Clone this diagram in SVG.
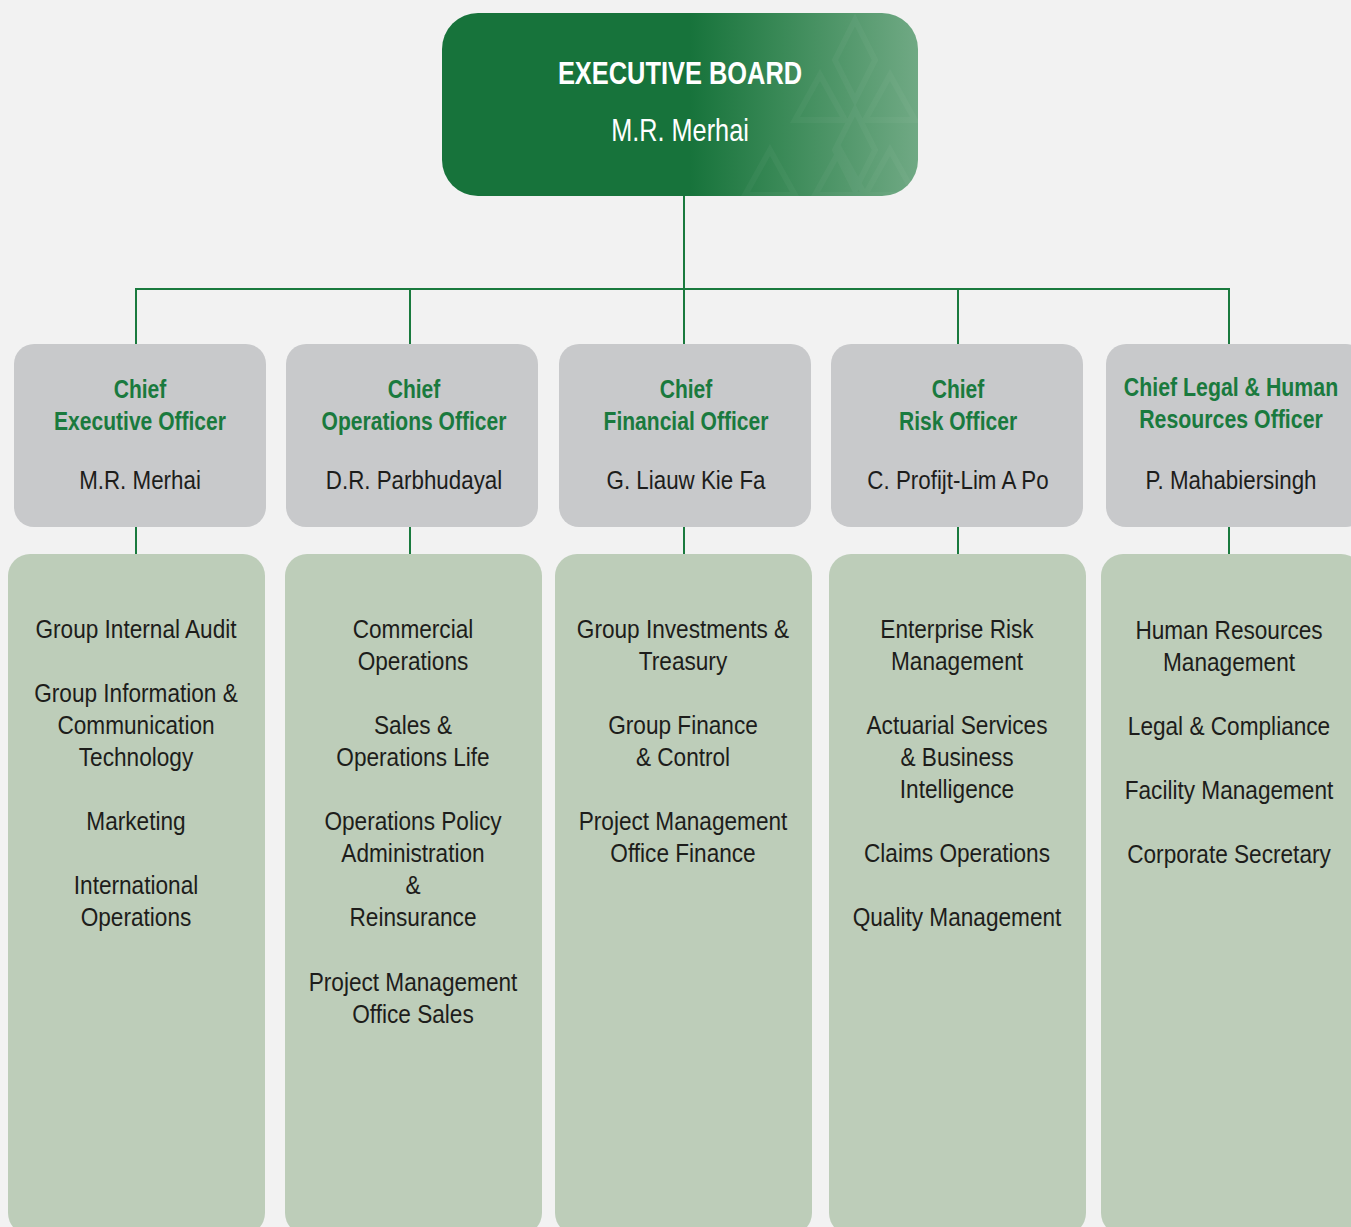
<svg xmlns="http://www.w3.org/2000/svg" width="1351" height="1227" viewBox="0 0 1351 1227">
<defs>
<linearGradient id="gb" x1="0" y1="0" x2="1" y2="0">
<stop offset="0" stop-color="#17733b"/>
<stop offset="0.52" stop-color="#17733b"/>
<stop offset="0.72" stop-color="#3b8a58"/>
<stop offset="1" stop-color="#70a984"/>
</linearGradient>
<clipPath id="cb"><rect x="442" y="13" width="476" height="183" rx="36"/></clipPath>
</defs>
<style>
.bg{fill:#f2f2f2}
.exec{fill:url(#gb)}
.gray{fill:#c8c9cb}
.unit{fill:#bdcdb9}
.con{stroke:#1a7a3e;stroke-width:2;fill:none}
text{font-family:"Liberation Sans",Arial,sans-serif;text-anchor:middle}
.t{font-size:26px;fill:#1d1d1b}
.h{font-size:26px;font-weight:bold;fill:#1a7a3e}
.nm{font-size:26px;fill:#1d1d1b}
.eb{font-size:31px;font-weight:bold;fill:#ffffff}
.en{font-size:32px;fill:#ffffff}
.pat{fill:none;stroke:#ffffff;stroke-opacity:0.035;stroke-width:6}
</style>
<rect class="bg" x="0" y="0" width="1351" height="1227"/>
<g id="connectors">
<path class="con" d="M684 196 V344"/>
<path class="con" d="M136 344 V289 H1229 V344"/>
<path class="con" d="M410 289 V344"/>
<path class="con" d="M958 289 V344"/>
<path class="con" d="M136 527 V554"/>
<path class="con" d="M410 527 V554"/>
<path class="con" d="M684 527 V554"/>
<path class="con" d="M958 527 V554"/>
<path class="con" d="M1229 527 V554"/>
</g>
<g id="executive-board">
<rect class="exec" x="442" y="13" width="476" height="183" rx="36"/>
<g clip-path="url(#cb)">
<path class="pat" d="M855 20 L875 60 L855 100 L835 60 Z M890 75 L915 120 L865 120 Z M820 75 L845 120 L795 120 Z M770 150 L795 195 L745 195 Z M840 150 L865 195 L815 195 Z M855 110 L875 150 L855 190 L835 150 Z M890 150 L915 195 L865 195 Z"/>
</g>
<g transform="translate(680 0) scale(0.82 1)"><text class="eb" x="0" y="84">EXECUTIVE BOARD</text></g>
<g transform="translate(680 0) scale(0.79 1)"><text class="en" x="0" y="141">M.R. Merhai</text></g>
</g>
<g id="ceo">
<rect class="gray" x="14" y="344" width="252" height="183" rx="20"/>
<g transform="translate(140 0) scale(0.81 1)">
<text class="h" x="0" y="398">Chief</text>
<text class="h" x="0" y="430">Executive Officer</text>
</g>
<g transform="translate(140 0) scale(0.86 1)"><text class="nm" x="0" y="489">M.R. Merhai</text></g>
</g>
<g id="coo">
<rect class="gray" x="286" y="344" width="252" height="183" rx="20"/>
<g transform="translate(414 0) scale(0.81 1)">
<text class="h" x="0" y="398">Chief</text>
<text class="h" x="0" y="430">Operations Officer</text>
</g>
<g transform="translate(414 0) scale(0.86 1)"><text class="nm" x="0" y="489">D.R. Parbhudayal</text></g>
</g>
<g id="cfo">
<rect class="gray" x="559" y="344" width="252" height="183" rx="20"/>
<g transform="translate(686 0) scale(0.81 1)">
<text class="h" x="0" y="398">Chief</text>
<text class="h" x="0" y="430">Financial Officer</text>
</g>
<g transform="translate(686 0) scale(0.86 1)"><text class="nm" x="0" y="489">G. Liauw Kie Fa</text></g>
</g>
<g id="cro">
<rect class="gray" x="831" y="344" width="252" height="183" rx="20"/>
<g transform="translate(958 0) scale(0.81 1)">
<text class="h" x="0" y="398">Chief</text>
<text class="h" x="0" y="430">Risk Officer</text>
</g>
<g transform="translate(958 0) scale(0.86 1)"><text class="nm" x="0" y="489">C. Profijt-Lim A Po</text></g>
</g>
<g id="clhro">
<rect class="gray" x="1106" y="344" width="260" height="183" rx="20"/>
<g transform="translate(1231 0) scale(0.82 1)">
<text class="h" x="0" y="396">Chief Legal &amp; Human</text>
<text class="h" x="0" y="428">Resources Officer</text>
</g>
<g transform="translate(1231 0) scale(0.86 1)"><text class="nm" x="0" y="489">P. Mahabiersingh</text></g>
</g>
<g id="ceo-units">
<rect class="unit" x="8" y="554" width="257" height="681" rx="22"/>
<g transform="translate(136 0) scale(0.87 1)">
<text class="t" x="0" y="638">Group Internal Audit</text>
<text class="t" x="0" y="702">Group Information &amp;</text>
<text class="t" x="0" y="734">Communication</text>
<text class="t" x="0" y="766">Technology</text>
<text class="t" x="0" y="830">Marketing</text>
<text class="t" x="0" y="894">International</text>
<text class="t" x="0" y="926">Operations</text>
</g>
</g>
<g id="coo-units">
<rect class="unit" x="285" y="554" width="257" height="681" rx="22"/>
<g transform="translate(413 0) scale(0.87 1)">
<text class="t" x="0" y="638">Commercial</text>
<text class="t" x="0" y="670">Operations</text>
<text class="t" x="0" y="734">Sales &amp;</text>
<text class="t" x="0" y="766">Operations Life</text>
<text class="t" x="0" y="830">Operations Policy</text>
<text class="t" x="0" y="862">Administration</text>
<text class="t" x="0" y="894">&amp;</text>
<text class="t" x="0" y="926">Reinsurance</text>
<text class="t" x="0" y="991">Project Management</text>
<text class="t" x="0" y="1023">Office Sales</text>
</g>
</g>
<g id="cfo-units">
<rect class="unit" x="555" y="554" width="257" height="681" rx="22"/>
<g transform="translate(683 0) scale(0.87 1)">
<text class="t" x="0" y="638">Group Investments &amp;</text>
<text class="t" x="0" y="670">Treasury</text>
<text class="t" x="0" y="734">Group Finance</text>
<text class="t" x="0" y="766">&amp; Control</text>
<text class="t" x="0" y="830">Project Management</text>
<text class="t" x="0" y="862">Office Finance</text>
</g>
</g>
<g id="cro-units">
<rect class="unit" x="829" y="554" width="257" height="681" rx="22"/>
<g transform="translate(957 0) scale(0.87 1)">
<text class="t" x="0" y="638">Enterprise Risk</text>
<text class="t" x="0" y="670">Management</text>
<text class="t" x="0" y="734">Actuarial Services</text>
<text class="t" x="0" y="766">&amp; Business</text>
<text class="t" x="0" y="798">Intelligence</text>
<text class="t" x="0" y="862">Claims Operations</text>
<text class="t" x="0" y="926">Quality Management</text>
</g>
</g>
<g id="clhro-units">
<rect class="unit" x="1101" y="554" width="262" height="681" rx="22"/>
<g transform="translate(1229 0) scale(0.87 1)">
<text class="t" x="0" y="639">Human Resources</text>
<text class="t" x="0" y="671">Management</text>
<text class="t" x="0" y="735">Legal &amp; Compliance</text>
<text class="t" x="0" y="799">Facility Management</text>
<text class="t" x="0" y="863">Corporate Secretary</text>
</g>
</g>
</svg>
